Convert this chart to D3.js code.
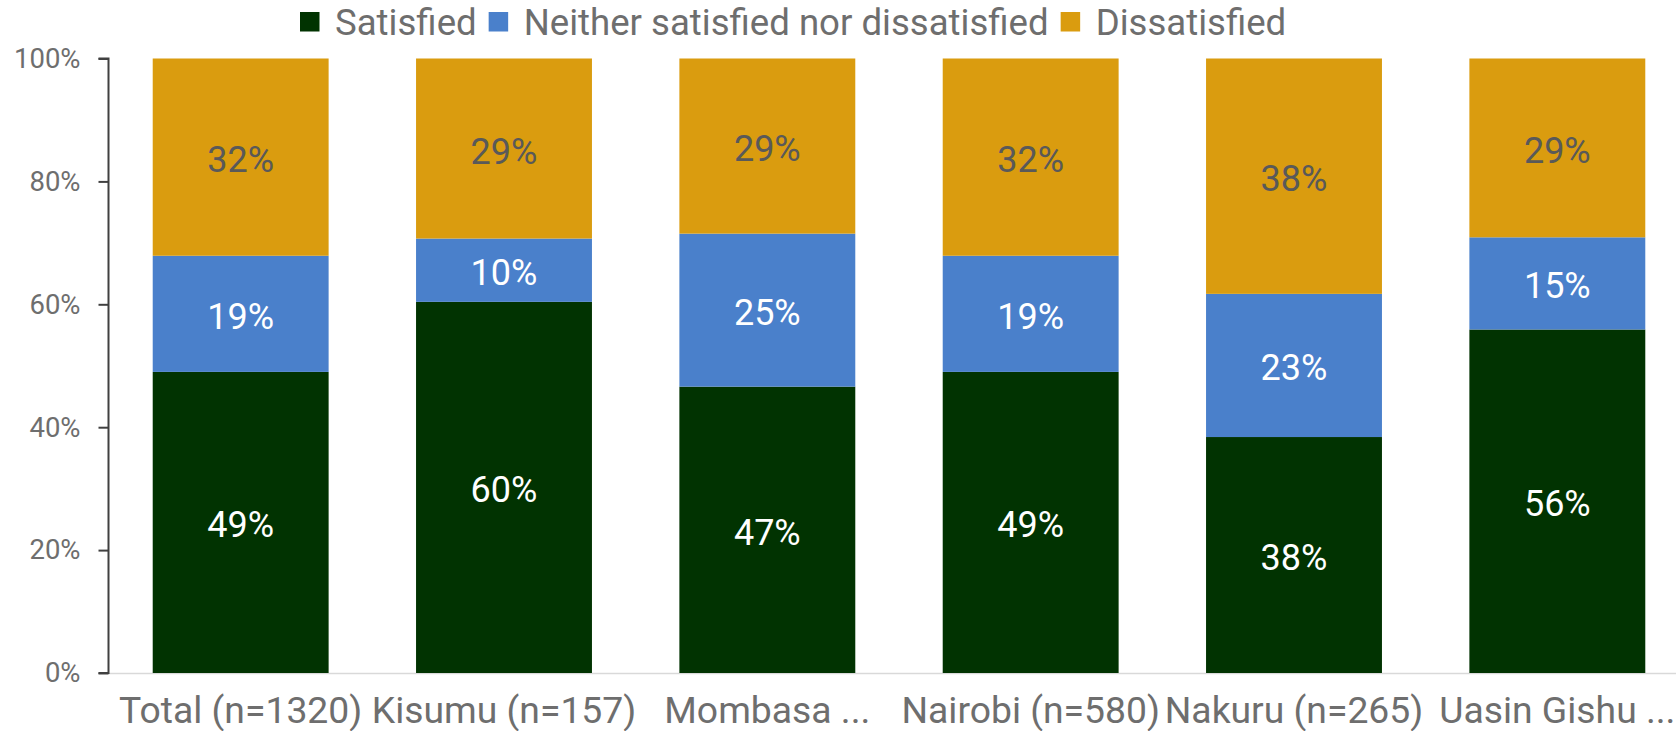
<!DOCTYPE html>
<html><head><meta charset="utf-8">
<script src="https://cdn.jsdelivr.net/npm/d3@7"></script>
<style>body{margin:0;background:#fff;}svg{display:block;font-family:Roboto,sans-serif;}</style>
</head><body>
<svg id="chart" width="1676" height="731"></svg>
<script>
const categories = ["Total (n=1320)", "Kisumu (n=157)", "Mombasa ...", "Nairobi (n=580)", "Nakuru (n=265)", "Uasin Gishu ..."];
const seriesNames = ["Satisfied", "Neither satisfied nor dissatisfied", "Dissatisfied"];
const satisfied = [49.0, 60.4, 46.6, 49.0, 38.4, 55.9];
const neither = [18.9, 10.3, 24.9, 18.9, 23.3, 15.0];
const dissatisfied = [32.1, 29.3, 28.5, 32.1, 38.3, 29.1];
const yTicks = [0, 20, 40, 60, 80, 100];

const colors = ["#013301", "#4a80cb", "#da9c0f"];
const labelColors = ["#ffffff", "#ffffff", "#595959"];

const svg = d3.select("#chart");
const x = d3.scaleBand().domain(categories).range([109, 1689]).paddingInner(0.332).paddingOuter(0.166);
const y = d3.scaleLinear().domain([0, 100]).range([673, 58.5]);

const rows = categories.map((c, i) => ({cat: c, s0: satisfied[i], s1: neither[i], s2: dissatisfied[i]}));
const stack = d3.stack().keys(["s0", "s1", "s2"]).order(d3.stackOrderNone).offset(d3.stackOffsetExpand);
const stacked = stack(rows);

// baseline
svg.append("line").attr("x1", 109).attr("x2", 1676).attr("y1", y(0) + 0.5).attr("y2", y(0) + 0.5)
  .attr("stroke", "#d9d9d9").attr("stroke-width", 1.5);

const g = svg.append("g");
stacked.forEach((layer, li) => {
  g.selectAll(null).data(layer).enter().append("rect")
    .attr("x", d => x(d.data.cat))
    .attr("width", x.bandwidth())
    .attr("y", d => y(d[1] * 100))
    .attr("height", d => y(d[0] * 100) - y(d[1] * 100))
    .attr("fill", colors[li]);
  g.selectAll(null).data(layer).enter().append("text")
    .attr("x", d => x(d.data.cat) + x.bandwidth() / 2)
    .attr("y", d => y((d[0] + d[1]) / 2 * 100) + 3)
    .attr("text-anchor", "middle")
    .attr("dominant-baseline", "central")
    .attr("font-size", 36)
    .attr("fill", labelColors[li])
    .text(d => Math.round(d.data["s" + li]) + "%");
});

// y axis
const yAxis = d3.axisLeft(y).tickValues(yTicks).tickFormat(d => d + "%").tickSize(10).tickPadding(18);
const ya = svg.append("g").attr("transform", "translate(108.5,0)").call(yAxis);
ya.select(".domain").attr("stroke", "#404040").attr("stroke-width", 2).attr("d", `M-10,${y(100)}H0V${y(0)}H-10`);
ya.selectAll(".tick line").attr("stroke", "#404040").attr("stroke-width", 2);
ya.selectAll(".tick text").attr("font-size", 27.5).attr("fill", "#6e6e6e").attr("font-family", "Roboto");

// x axis labels
const xAxis = d3.axisBottom(x).tickSize(0).tickPadding(24);
const xa = svg.append("g").attr("transform", `translate(0,${y(0)})`).call(xAxis);
xa.select(".domain").remove();
xa.selectAll(".tick text").attr("font-size", 37.3).attr("fill", "#6e6e6e").attr("font-family", "Roboto");

// legend
const leg = svg.append("g");
let lx = 300;
seriesNames.forEach((name, i) => {
  leg.append("rect").attr("x", lx).attr("y", 12).attr("width", 19.5).attr("height", 19.5).attr("fill", colors[i]);
  const t = leg.append("text").attr("x", lx + 35).attr("y", 22).attr("dominant-baseline", "central")
    .attr("font-size", 36.6).attr("fill", "#6e6e6e").text(name);
  lx += 35 + t.node().getComputedTextLength() + 12;
});
</script>
</body></html>
